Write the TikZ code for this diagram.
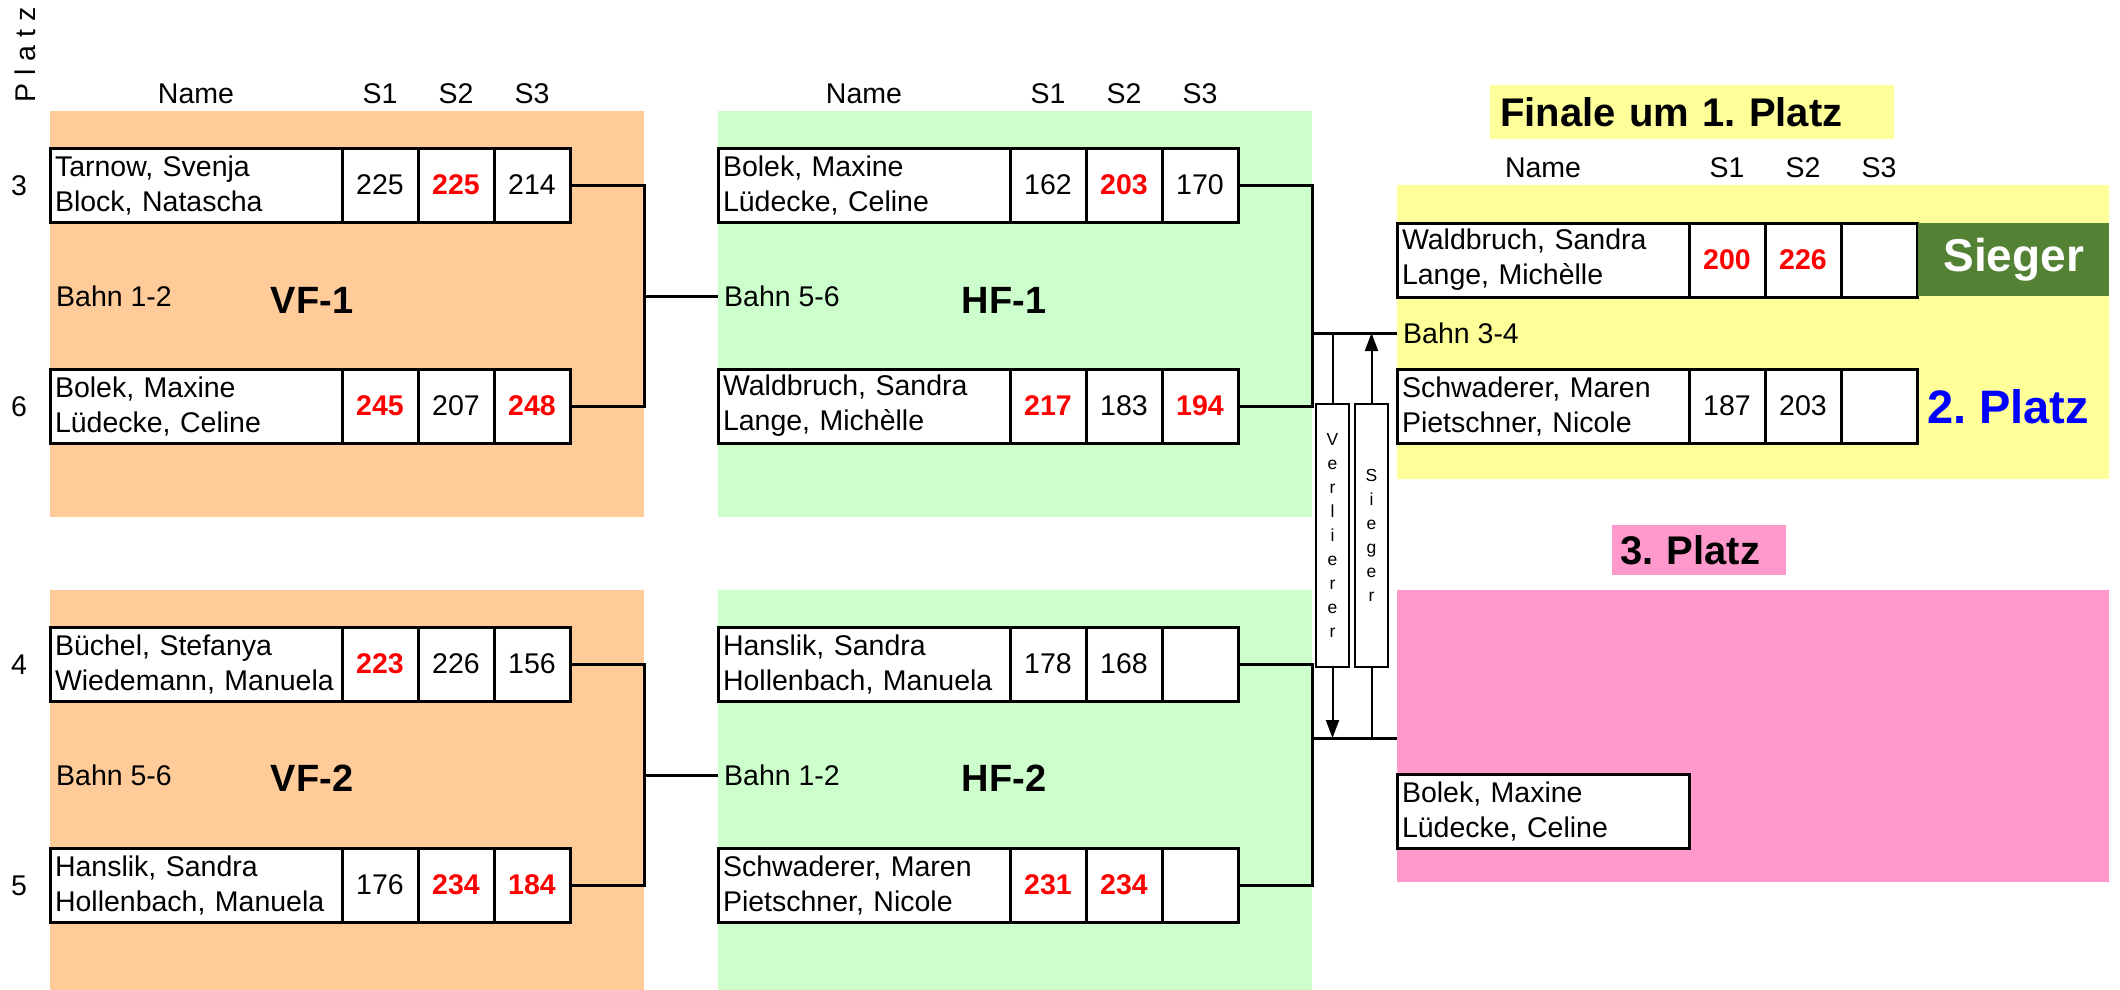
\documentclass[tikz,border=0pt]{standalone}
\usepackage{fontspec}
\setmainfont{Liberation Sans}
\usetikzlibrary{arrows.meta}
\frenchspacing
\definecolor{orangebg}{HTML}{FFCC99}
\definecolor{greenbg}{HTML}{CCFFCC}
\definecolor{yellowbg}{HTML}{FFFF99}
\definecolor{pinkbg}{HTML}{FF99CC}
\definecolor{siegergreen}{HTML}{548235}
\newcommand\hs[1]{\textcolor{red}{\bfseries #1}}
\newcommand\matchbox[8]{%
  \node[namecell] (#1n) at (#2,#3) {#4\\#5};
  \node[scorecell] (#1a) at (#1n.north east) {#6};
  \node[scorecell] (#1b) at (#1a.north east) {#7};
  \node[scorecell] (#1c) at (#1b.north east) {#8};
}
\tikzset{
  namecell/.style={draw, line width=3pt, outer sep=0pt, fill=white, anchor=north west,
    minimum height=74pt, text width=282pt, inner xsep=5pt, inner ysep=0pt, align=left,
    font=\fontsize{28.5}{35}\selectfont\frenchspacing},
  scorecell/.style={draw, line width=3pt, outer sep=0pt, fill=white, anchor=north west,
    minimum width=76pt, minimum height=74pt, inner sep=0pt, font=\fontsize{28.5}{34}\selectfont},
  hdr/.style={inner sep=0pt, font=\fontsize{28.5}{34}\selectfont},
  lbl/.style={inner xsep=6pt, inner ysep=0pt, anchor=west, font=\fontsize{28.5}{34}\selectfont},
  rtitle/.style={inner sep=0pt, font=\fontsize{38}{44}\selectfont\bfseries},
  conn/.style={line width=3pt},
  vbox/.style={draw, line width=2pt, fill=white, minimum width=33pt, minimum height=263pt,
    inner sep=0pt, align=center, font=\fontsize{17.5}{24}\selectfont},
  thinln/.style={line width=2pt},
  arr/.style={line width=2pt, -{Triangle[width=13pt,length=18pt]}},
}
\begin{document}
\begin{tikzpicture}[x=1pt,y=-1pt]
\useasboundingbox (0,0) rectangle (2120,990);
% backgrounds
\fill[orangebg] (50,111) rectangle (644,517);
\fill[orangebg] (50,590) rectangle (644,990);
\fill[greenbg] (718,111) rectangle (1312,517);
\fill[greenbg] (718,590) rectangle (1312,990);
\fill[yellowbg] (1397,185) rectangle (2109,479);
\fill[pinkbg] (1397,590) rectangle (2109,882);

% Platz label and numbers
\node[hdr, rotate=90] (platz) at (25,55) {P l a t z};
\node[hdr] (p3) at (19,186) {3};
\node[hdr] (p6) at (19,407) {6};
\node[hdr] (p4) at (19,665) {4};
\node[hdr] (p5) at (19,886) {5};

% headers
\node[hdr] (vfname) at (196,94) {Name};
\node[hdr] (vfs1) at (380,94) {S1};
\node[hdr] (vfs2) at (456,94) {S2};
\node[hdr] (vfs3) at (532,94) {S3};
\node[hdr] (hfname) at (864,94) {Name};
\node[hdr] (hfs1) at (1048,94) {S1};
\node[hdr] (hfs2) at (1124,94) {S2};
\node[hdr] (hfs3) at (1200,94) {S3};
\node[hdr] (fname) at (1543,168) {Name};
\node[hdr] (fs1) at (1727,168) {S1};
\node[hdr] (fs2) at (1803,168) {S2};
\node[hdr] (fs3) at (1879,168) {S3};

% titles
\node[rtitle] (vf1t) at (312,300) {VF-1};
\node[rtitle] (vf2t) at (312,778) {VF-2};
\node[rtitle] (hf1t) at (1004,300) {HF-1};
\node[rtitle] (hf2t) at (1004,778) {HF-2};
\node[lbl] (vf1bahn) at (50,296) {Bahn 1-2};
\node[lbl] (vf2bahn) at (50,775) {Bahn 5-6};
\node[lbl] (hf1bahn) at (718,296) {Bahn 5-6};
\node[lbl] (hf2bahn) at (718,775) {Bahn 1-2};
\node[lbl] (fbahn) at (1397,333) {Bahn 3-4};

% matches
\matchbox{vfa}{50}{148}{Tarnow, Svenja}{Block, Natascha}{225}{\hs{225}}{214}
\matchbox{vfb}{50}{369}{Bolek, Maxine}{Lüdecke, Celine}{\hs{245}}{207}{\hs{248}}
\matchbox{vfc}{50}{627}{Büchel, Stefanya}{Wiedemann, Manuela}{\hs{223}}{226}{156}
\matchbox{vfd}{50}{848}{Hanslik, Sandra}{Hollenbach, Manuela}{176}{\hs{234}}{\hs{184}}
\matchbox{hfa}{718}{148}{Bolek, Maxine}{Lüdecke, Celine}{162}{\hs{203}}{170}
\matchbox{hfb}{718}{369}{Waldbruch, Sandra}{Lange, Michèlle}{\hs{217}}{183}{\hs{194}}
\matchbox{hfc}{718}{627}{Hanslik, Sandra}{Hollenbach, Manuela}{178}{168}{}
\matchbox{hfd}{718}{848}{Schwaderer, Maren}{Pietschner, Nicole}{\hs{231}}{\hs{234}}{}
\matchbox{fa}{1397}{223}{Waldbruch, Sandra}{Lange, Michèlle}{\hs{200}}{\hs{226}}{}
\matchbox{fb}{1397}{369}{Schwaderer, Maren}{Pietschner, Nicole}{187}{203}{}
\node[namecell] (thirdn) at (1397,774) {Bolek, Maxine\\Lüdecke, Celine};

% final labels
\node[fill=yellowbg, anchor=north west, minimum height=54pt, text width=384pt, inner xsep=10pt,
  inner ysep=0pt, align=left, font=\fontsize{40}{46}\selectfont\bfseries\frenchspacing] (ftitle) at (1490,85) {Finale um 1. Platz};
\node[fill=pinkbg, anchor=north west, minimum height=50pt, text width=158pt, inner xsep=8pt,
  inner ysep=0pt, align=left, font=\fontsize{40}{46}\selectfont\bfseries\frenchspacing] (thirdtitle) at (1612,525) {3. Platz};
\node[fill=siegergreen, anchor=north west, minimum width=191pt, minimum height=73pt, inner sep=0pt,
  text=white, font=\fontsize{46}{50}\selectfont\bfseries] (siegerlbl) at (1918,223) {Sieger};
\node[text=blue, inner sep=0pt, font=\fontsize{47}{52}\selectfont\bfseries\frenchspacing] (secondlbl) at (2008,407) {2. Platz};

% connectors
\coordinate (vf1x) at (644,296);
\coordinate (vf2x) at (644,775);
\coordinate (hf1x) at (1312,333);
\coordinate (hf2x) at (1312,738);
\coordinate (thirdin) at (1397,738);
\draw[conn] (vfac.east) -| (vf1x) |- (vfbc.east);
\draw[conn] (vf1x) -- (hf1bahn.west);
\draw[conn] (vfcc.east) -| (vf2x) |- (vfdc.east);
\draw[conn] (vf2x) -- (hf2bahn.west);
\draw[conn] (hfac.east) -| (hf1x) |- (hfbc.east);
\draw[conn] (hf1x) -- (fbahn.west);
\draw[conn] (hfcc.east) -| (hf2x) |- (hfdc.east);
\draw[conn] (hf2x) -- (thirdin);

% Verlierer / Sieger
\node[vbox] (verl) at (1332.5,535.5) {V\\e\\r\\l\\i\\e\\r\\e\\r};
\node[vbox] (sieg) at (1371.5,535.5) {S\\i\\e\\g\\e\\r};
\coordinate (verltop) at (1332.5,333);
\coordinate (verlbot) at (1332.5,738);
\coordinate (siegtop) at (1371.5,333);
\coordinate (siegbot) at (1371.5,738);
\draw[thinln] (verltop) -- (verl.north);
\draw[arr] (verl.south) -- (verlbot);
\draw[arr] (sieg.north) -- (siegtop);
\draw[thinln] (siegbot) -- (sieg.south);
\end{tikzpicture}
\end{document}
